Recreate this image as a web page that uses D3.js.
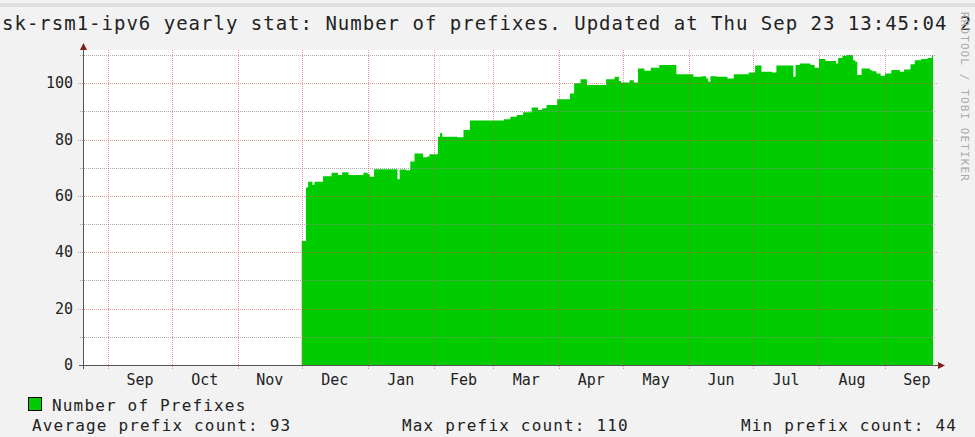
<!DOCTYPE html>
<html>
<head>
<meta charset="utf-8">
<script src="https://cdn.jsdelivr.net/npm/d3@7"></script>
<style>
  body { margin: 0; background: #f2f2f2; }
  text { font-family: "DejaVu Sans Mono", monospace; }
</style>
</head>
<body>
<div id="chart"></div>
<script>
//values (daily steps)
var dates = ["2020-12-01","2020-12-03","2020-12-04","2020-12-06","2020-12-07","2020-12-11","2020-12-15","2020-12-18",
  "2020-12-20","2020-12-23","2020-12-30","2021-01-01","2021-01-02","2021-01-04","2021-01-15","2021-01-16",
  "2021-01-19","2021-01-21","2021-01-23","2021-01-27","2021-01-29","2021-01-30","2021-02-03","2021-02-04",
  "2021-02-05","2021-02-12","2021-02-15","2021-02-18","2021-03-06","2021-03-09","2021-03-12","2021-03-15",
  "2021-03-19","2021-03-22","2021-03-24","2021-03-26","2021-03-31","2021-04-06","2021-04-08","2021-04-11",
  "2021-04-14","2021-04-23","2021-04-27","2021-04-29","2021-04-30","2021-05-04","2021-05-06","2021-05-08",
  "2021-05-11","2021-05-14","2021-05-18","2021-05-26","2021-06-03","2021-06-07","2021-06-09","2021-06-10",
  "2021-06-11","2021-06-14","2021-06-19","2021-06-22","2021-06-29","2021-07-02","2021-07-05","2021-07-10",
  "2021-07-12","2021-07-20","2021-07-21","2021-07-23","2021-07-28","2021-07-30","2021-08-01","2021-08-04",
  "2021-08-09","2021-08-10","2021-08-12","2021-08-14","2021-08-17","2021-08-18","2021-08-19","2021-08-21",
  "2021-08-25","2021-08-26","2021-08-28","2021-08-30","2021-09-01","2021-09-04","2021-09-08","2021-09-10",
  "2021-09-13","2021-09-15","2021-09-18","2021-09-21","2021-09-23"];
var prefixes = [44, 63, 65, 64, 65, 67, 68.2, 67.4,
  68.4, 67.4, 68.2, 67.7, 66.8, 69.5, 65.9, 69.4,
  69.1, 72.2, 75.1, 73.7, 74, 74.8, 81, 82.3,
  81, 80.8, 83.4, 86.8, 87.2, 88.1, 88.7, 89.7,
  91.4, 90.5, 91.1, 92.3, 94.3, 96.4, 100, 101.4,
  99.4, 101.4, 102.3, 100.8, 100.3, 101.1, 100.3, 105.2,
  104.4, 105.5, 106.5, 103.2, 102.3, 102.5, 101.7, 100.5,
  102.5, 102.3, 101.7, 103.2, 103.8, 106.3, 104.1, 103.8,
  106.3, 102.3, 106.5, 107, 106.5, 105.5, 108.6, 107.9,
  107, 109, 109.8, 110, 108.2, 107.6, 102.9, 105.2,
  104.6, 104.3, 103.5, 102.7, 103.5, 104.7, 104.1, 104.9,
  106.7, 108.2, 108.6, 109, 110];

var monthLabels = ["Sep","Oct","Nov","Dec","Jan","Feb","Mar","Apr","May","Jun","Jul","Aug","Sep"];
var majorTicks = [0, 20, 40, 60, 80, 100];
var minorTicks = [10, 30, 50, 70, 90, 110];
var legendStats = ["Average prefix count: 93", "Max prefix count: 110", "Min prefix count: 44"];
//title as far as it is visible in the image
var titleText = "sk-rsm1-ipv6 yearly stat: Number of prefixes. Updated at Thu Sep 23 13:45:04 2";

var W = 975, H = 437;
var plot = {left: 83, right: 933, top: 50, bottom: 365};

var parse = d3.timeParse("%Y-%m-%d");
var parseT = d3.timeParse("%Y-%m-%d %H:%M");
var tStart = parseT("2020-08-20 06:00"),
    tEnd = parseT("2021-09-23 13:45");

var data = dates.map(function(d, i) { return {date: parse(d), value: prefixes[i]}; });
//hold last value until the update time
data.push({date: tEnd, value: prefixes[prefixes.length - 1]});

var x = d3.scaleTime().domain([tStart, tEnd]).range([plot.left, plot.right]);
var y = d3.scaleLinear().domain([0, 111.8]).range([plot.bottom, plot.top]);

var svg = d3.select("#chart").append("svg")
    .attr("width", W).attr("height", H);

//background and canvas
svg.append("rect").attr("width", W).attr("height", H).style("fill", "#f2f2f2");
svg.append("rect").attr("y", 3).attr("width", W).attr("height", 4).style("fill", "#dedede");
svg.append("rect")
    .attr("x", plot.left).attr("y", plot.top)
    .attr("width", plot.right - plot.left).attr("height", plot.bottom - plot.top)
    .style("fill", "#ffffff");

//area
var area = d3.area()
    .curve(d3.curveStepAfter)
    .x(function(d) { return x(d.date); })
    .y0(y(0))
    .y1(function(d) { return y(d.value); });

svg.append("path")
    .datum(data)
    .attr("d", area)
    .style("fill", "#00cc00");

//minor grid
svg.selectAll(".minor")
    .data(minorTicks).enter()
    .append("line")
    .attr("x1", plot.left - 3).attr("x2", plot.right + 3)
    .attr("y1", function(d) { return Math.round(y(d)) + 0.5; })
    .attr("y2", function(d) { return Math.round(y(d)) + 0.5; })
    .style("stroke", "rgba(143,143,143,0.75)")
    .style("stroke-dasharray", "1,1");

//major grid, horizontal
svg.selectAll(".major")
    .data(majorTicks.slice(1)).enter()
    .append("line")
    .attr("x1", plot.left - 5).attr("x2", plot.right + 5)
    .attr("y1", function(d) { return Math.round(y(d)) + 0.5; })
    .attr("y2", function(d) { return Math.round(y(d)) + 0.5; })
    .style("stroke", "rgba(222,79,79,0.6)")
    .style("stroke-dasharray", "1,1");

//major grid, months
var monthStarts = d3.timeMonth.range(new Date(2020, 8, 1), new Date(2021, 9, 1));
svg.selectAll(".month")
    .data(monthStarts).enter()
    .append("line")
    .attr("x1", function(d) { return Math.round(x(d)) + 0.5; })
    .attr("x2", function(d) { return Math.round(x(d)) + 0.5; })
    .attr("y1", plot.top).attr("y2", plot.bottom + 4)
    .style("stroke", "rgba(222,79,79,0.6)")
    .style("stroke-dasharray", "1,1");

//axes
svg.append("line")
    .attr("x1", plot.left - 4).attr("x2", plot.right + 6)
    .attr("y1", plot.bottom + 0.5).attr("y2", plot.bottom + 0.5)
    .style("stroke", "#555");
svg.append("line")
    .attr("x1", plot.left + 0.5).attr("x2", plot.left + 0.5)
    .attr("y1", plot.bottom + 4).attr("y2", plot.top - 4)
    .style("stroke", "#555");

//arrows
svg.append("path")
    .attr("d", "M" + (plot.left - 3) + "," + (plot.top) + "L" + (plot.left + 4) + "," + (plot.top) +
      "L" + (plot.left + 0.5) + "," + (plot.top - 7) + "Z")
    .style("fill", "#801f1f");
svg.append("path")
    .attr("d", "M" + (plot.right + 5) + "," + (plot.bottom - 3) + "L" + (plot.right + 5) + "," + (plot.bottom + 4) +
      "L" + (plot.right + 12) + "," + (plot.bottom + 0.5) + "Z")
    .style("fill", "#801f1f");

//y labels
svg.selectAll(".ylab")
    .data(majorTicks).enter()
    .append("text")
    .attr("x", plot.left - 10)
    .attr("y", function(d) { return y(d) + 5; })
    .attr("text-anchor", "end")
    .style("font-size", "15px")
    .style("fill", "#222")
    .text(function(d) { return d; });

//month labels, centred in each month
svg.selectAll(".xlab")
    .data(monthStarts).enter()
    .append("text")
    .attr("x", function(d) { return (x(d) + x(d3.timeMonth.offset(d, 1))) / 2; })
    .attr("y", plot.bottom + 20)
    .attr("text-anchor", "middle")
    .style("font-size", "15px")
    .style("fill", "#222")
    .text(function(d, i) { return monthLabels[i]; });

//title
svg.append("text")
    .attr("x", 2).attr("y", 30)
    .style("font-size", "19px")
    .style("letter-spacing", "1px")
    .style("fill", "#222")
    .text(titleText);

//watermark
svg.append("text")
    .attr("transform", "translate(961,12) rotate(90)")
    .style("font-size", "11px")
    .style("letter-spacing", "1.1px")
    .style("fill", "#aaa")
    .text("RRDTOOL / TOBI OETIKER");

//legend
svg.append("rect")
    .attr("x", 28.5).attr("y", 397.5)
    .attr("width", 13).attr("height", 13)
    .style("fill", "#00cc00")
    .style("stroke", "#000");
svg.append("text")
    .attr("x", 52).attr("y", 411)
    .style("font-size", "16px")
    .style("letter-spacing", "1.17px")
    .style("fill", "#222")
    .text("Number of Prefixes");

var statX = [32, 402, 741];
svg.selectAll(".stat")
    .data(legendStats).enter()
    .append("text")
    .attr("x", function(d, i) { return statX[i]; })
    .attr("y", 431)
    .style("font-size", "16px")
    .style("letter-spacing", "1.17px")
    .style("fill", "#222")
    .text(function(d) { return d; });
</script>
</body>
</html>
